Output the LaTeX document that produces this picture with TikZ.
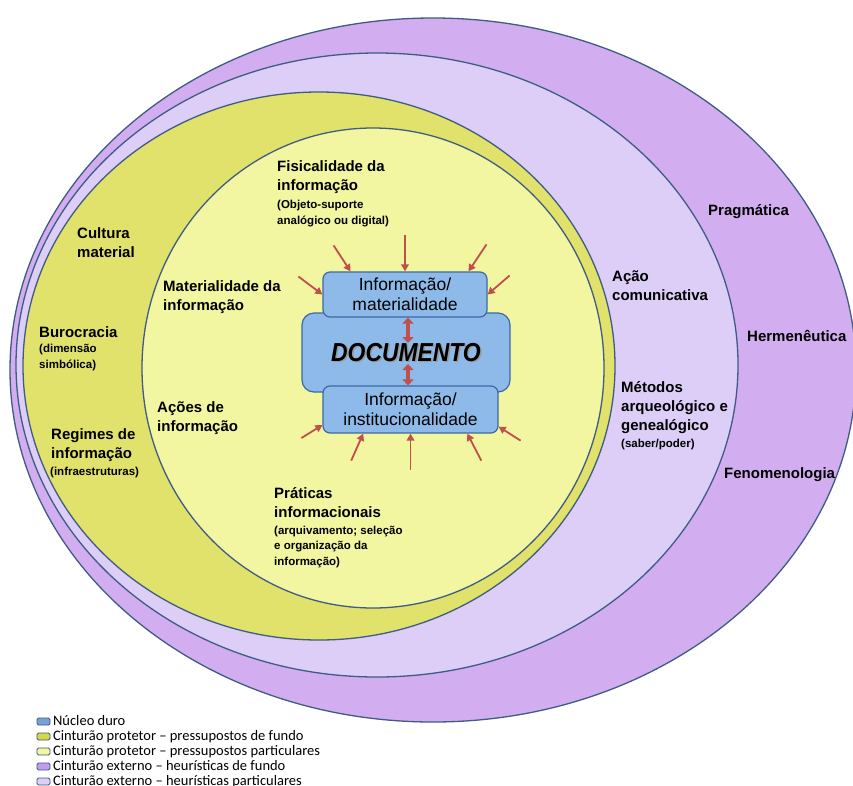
\documentclass[tikz,border=0pt]{standalone}
\usepackage{fontspec}
\setmainfont{Liberation Sans}
\newfontfamily\legendfont{Carlito}
\newfontfamily\docfont[FakeStretch=0.88]{Liberation Sans}
\usepackage{tikz}
\usetikzlibrary{arrows.meta}
\usetikzlibrary{positioning}

\definecolor{extfundo}{RGB}{210,174,240}
\definecolor{extpart}{RGB}{220,206,246}
\definecolor{protfundo}{RGB}{224,226,108}
\definecolor{protpart}{RGB}{242,246,160}
\definecolor{nucleo}{RGB}{141,186,233}
\definecolor{boxline}{RGB}{62,104,164}
\definecolor{ringline}{RGB}{62,92,132}
\definecolor{arrred}{RGB}{192,80,77}
\definecolor{keyext}{RGB}{196,156,236}
\definecolor{keyprot}{RGB}{216,216,70}
\definecolor{keynucleo}{RGB}{120,162,214}

\tikzset{
ring/.style={draw=ringline, line width=1.3pt},
infobox/.style={draw=boxline, fill=nucleo, line width=1.2pt, rounded corners=7pt, inner sep=0pt, align=center, font=\fontsize{17.5}{20}\selectfont},
lab/.style={font=\bfseries\fontsize{15}{19}\selectfont, align=left, anchor=base west, inner sep=0pt},
sublab/.style={font=\bfseries\fontsize{11.5}{15.5}\selectfont, align=left, anchor=base west, inner sep=0pt},
inarrow/.style={draw=arrred, line width=1.8pt, -{Triangle[width=7.5pt,length=7pt]}},
dblarrow/.style={draw=arrred, line width=4pt, arrows={Triangle[width=11pt,length=6pt]-Triangle[width=11pt,length=6pt]}},
keybox/.style={draw=ringline, line width=0.8pt, rounded corners=1.5pt, minimum width=13pt, minimum height=7pt, inner sep=0pt},
keytext/.style={font=\legendfont\fontsize{14.5}{15}\selectfont, inner sep=0pt, text height=9.5pt, text depth=2.5pt}
}

\begin{document}
\begin{tikzpicture}[x=1pt,y=1pt,yscale=-1,xscale=1]
\useasboundingbox (0,0) rectangle (853,785);
\fill [white] (0,0) rectangle (853,785);
\draw [ring, fill=extfundo] (433,370) ellipse [x radius=423, y radius=352];
\draw [ring, fill=extpart] (377,365) ellipse [x radius=361, y radius=312];
\draw [ring, fill=protfundo] (319,366) ellipse [x radius=296, y radius=274];
\draw [ring, fill=protpart] (373,368) ellipse [x radius=231, y radius=240];

\draw (406,352.5) node [infobox, rounded corners=12pt, minimum width=208, minimum height=79] (doc) {};
\draw ([xshift=1.5pt,yshift=1.5pt]doc.center) node [text=black!40, font=\docfont\bfseries\itshape\fontsize{26}{26}\selectfont] (docshadow) {DOCUMENTO};
\draw (doc.center) node [font=\docfont\bfseries\itshape\fontsize{26}{26}\selectfont] (doclabel) {DOCUMENTO};
\draw (405,294.5) node [infobox, minimum width=164, minimum height=45] (mat) {Informação/\\materialidade};
\draw (410.5,409.5) node [infobox, minimum width=175, minimum height=47] (inst) {Informação/\\institucionalidade};

\coordinate (dtop) at (408,343);
\coordinate (dbot) at (408,364);
\draw [dblarrow] (mat.south -| dtop) -- (dtop);
\draw [dblarrow] (dbot) -- (inst.north -| dbot);

\foreach \a/\dx/\dy in {157/-17/-26, north/0/-36, 20/18/-27, west/-24/-18, east/22/-19}
  \draw [inarrow] (mat.\a) ++(\dx,\dy) -- (mat.\a);
\foreach \a/\dx/\dy in {190/-21/13, 207/-12/27, south/0/36, 337/14/27, 349/22/14}
  \draw [inarrow] (inst.\a) ++(\dx,\dy) -- (inst.\a);

\draw (277,190) node [lab] (fisica) {Fisicalidade da\\informação};
\draw (277,224) node [sublab] (fisicasub) {(Objeto-suporte\\analógico ou digital)};
\draw (77,257) node [lab] (cultura) {Cultura\\material};
\draw (163,310) node [lab] (materia) {Materialidade da\\informação};
\draw (39,337) node [lab] (buro) {Burocracia};
\draw (39,368) node [sublab] (burosub) {(dimensão\\simbólica)};
\draw (157,431) node [lab] (acoes) {Ações de\\informação};
\draw (51,458) node [lab] (regimes) {Regimes de\\informação};
\draw (50,475) node [sublab] (regimessub) {(infraestruturas)};
\draw (274,517) node [lab] (praticas) {Práticas\\informacionais};
\draw (274,565) node [sublab] (praticassub) {(arquivamento; seleção\\e organização da\\informação)};
\draw (708,215) node [lab] (pragma) {Pragmática};
\draw (612,300) node [lab] (acao) {Ação\\comunicativa};
\draw (747,341) node [lab] (herme) {Hermenêutica};
\draw (621,430) node [lab] (metodos) {Métodos\\arqueológico e\\genealógico};
\draw (621,447) node [sublab] (metodossub) {(saber/poder)};
\draw (724,478) node [lab] (fenom) {Fenomenologia};

\foreach \c/\t [count=\i] in {keynucleo/Núcleo duro, keyprot/Cinturão protetor – pressupostos de fundo, protpart/Cinturão protetor – pressupostos particulares, keyext/Cinturão externo – heurísticas de fundo, extpart/Cinturão externo – heurísticas particulares}
{
  \draw (43.5,{721.5+15*(\i-1)}) node [keybox, fill=\c] (key\i) {};
  \node [keytext, right=2.5pt of key\i] (legend\i) {\t};
}
\end{tikzpicture}
\end{document}
